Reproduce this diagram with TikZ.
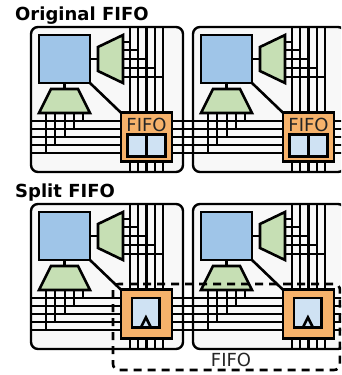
\documentclass[tikz,border=0pt]{standalone}
\usepackage{fontspec}
\setmainfont{DejaVu Sans}
\usepackage{tikz}
\usetikzlibrary{calc}
\usepackage{xcolor}
\definecolor{corecol}{HTML}{9FC5E8}
\definecolor{muxcol}{HTML}{C6DFB4}
\definecolor{fifocol}{HTML}{F6B26B}
\definecolor{cellcol}{HTML}{CFE2F3}
\definecolor{tilecol}{HTML}{F8F8F8}
\tikzset{
  % thin connection
  wire/.style={line width=2.6pt, black},
  % tile outline
  tilebox/.style={rectangle, rounded corners=7pt, draw, line width=2.4pt, fill=tilecol,
                  minimum width=152pt, minimum height=145pt, inner sep=0pt, outer sep=0pt},
  % compute core
  corebox/.style={rectangle, draw, line width=2.6pt, fill=corecol,
                  minimum width=51pt, minimum height=48pt, inner sep=0pt, outer sep=0pt},
  % multiplexer
  muxbox/.style={draw, line width=2.6pt, fill=muxcol, line join=miter},
  % fifo block
  fifobox/.style={rectangle, draw, line width=2.6pt, fill=fifocol,
                  minimum width=51pt, minimum height=48.5pt, inner sep=0pt, outer sep=0pt},
  % memory cell
  cellbox/.style={rectangle, draw, line width=2.6pt, fill=cellcol, inner sep=0pt, outer sep=0pt},
  % text
  titlelabel/.style={font=\fontsize{18}{20}\selectfont\bfseries, anchor=base west, inner sep=0pt},
  fifolabel/.style={font=\fontsize{18}{20}\selectfont, text=black!85, anchor=base, inner sep=0pt},
  % one tile with its wires
  tile/.pic={
    \node[tilebox] (-frame) at (107,99.5) {};
    \foreach \x in {130,138,146.5,155,163}
      \draw[wire] (\x,0 |- -frame.north) -- (\x,0 |- -frame.south);
    \coordinate (-muxright) at (110.5,59);
    \coordinate (-muxbottom) at (64.5,101);
    \foreach \x/\y in {130/42,138/50,146.5/59,155/68,163/77}
      \draw[wire] (-muxright |- 0,\y) -- (\x,\y);
    \foreach \x/\y in {46/153,55/145,65/137,74/129,83/121}
      \draw[wire] (\x,0 |- -muxbottom) -- (\x,\y);
    \node[fifobox] (-fifo) at (146.5,137) {};
    \foreach \y in {121,129,137,145,153} {
      \draw[wire] (-frame.west |- 0,\y) -- (-fifo.west |- 0,\y);
      \draw[wire] (-fifo.east |- 0,\y) -- ($(-frame.east |- 0,\y)+(10,0)$);
    }
    \node[corebox] (-core) at (64.5,59) {};
    \draw[wire] (-core) -- (-muxright);
    \draw[wire] (-core) -- (-muxbottom);
    \draw[muxbox] (98,47) -- (123,35) -- (123,83) -- (98,71) -- cycle;
    \draw[muxbox] (51,89) -- (78,89) -- (90,113) -- (39,113) -- cycle;
    \node[corebox] at (-core) {};
    \draw[wire] (-core.south east) -- (-fifo.north west);
    \node[fifobox] at (-fifo) {};
  },
  % fifo with two cells
  cellfifo/.pic={
    \node[fifolabel] (-label) at (0,-6) {FIFO};
    \node[cellbox, minimum width=19pt, minimum height=21.5pt] (-left) at (-9.25,8.5) {};
    \node[cellbox, minimum width=19pt, minimum height=21.5pt] (-right) at (9.25,8.5) {};
  },
  % fifo part with one clocked cell
  clockfifo/.pic={
    \node[cellbox, minimum width=27.5pt, minimum height=29.5pt] (-cell) at (-0.6,-1.3) {};
    \draw[wire] ($(-cell.south)+(-5,0)$) -- ++(5,-10) -- ++(5,10);
  },
}
\begin{document}
\begin{tikzpicture}[x=1pt,y=-1pt]
  \clip (0,0) rectangle (341,375);
  \node[titlelabel] (title1) at (15,20) {Original FIFO};
  \pic (a1) at (0,0) {tile};
  \pic (a2) at (162,0) {tile};
  \pic (c1) at (a1-fifo) {cellfifo};
  \pic (c2) at (a2-fifo) {cellfifo};
  \node[titlelabel] (title2) at (15,197) {Split FIFO};
  \pic (b1) at (0,177) {tile};
  \pic (b2) at (162,177) {tile};
  \pic (k1) at (b1-fifo) {clockfifo};
  \pic (k2) at (b2-fifo) {clockfifo};
  \draw[wire, dash pattern=on 8pt off 6pt, rounded corners=6pt] (113,284) rectangle (340,370);
  \node[fifolabel] (fifoname) at (231,366) {FIFO};
\end{tikzpicture}
\end{document}
